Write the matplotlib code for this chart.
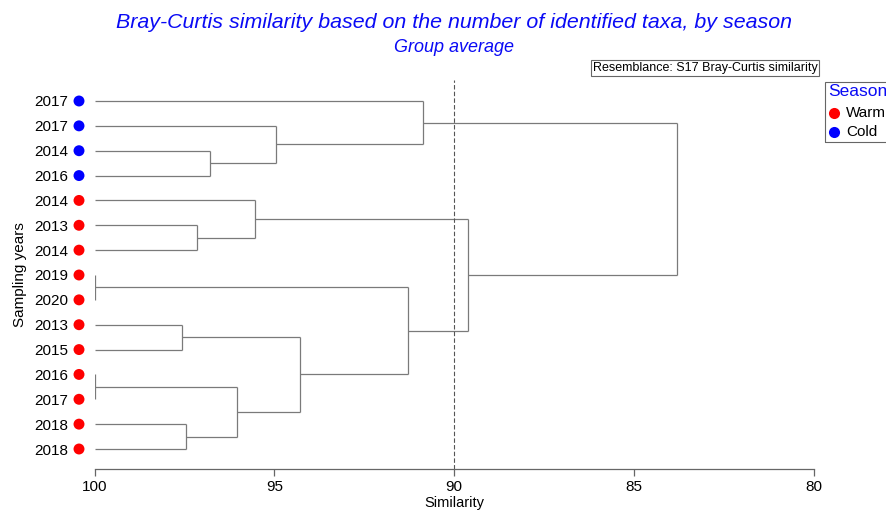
import matplotlib
matplotlib.use("Agg")
import matplotlib.pyplot as plt
from matplotlib.patches import Rectangle

plt.rcParams['font.family'] = ['Liberation Sans', 'DejaVu Sans']

# ---- data ----
leaf_labels = ["2017", "2017", "2014", "2016", "2014", "2013", "2014", "2019",
               "2020", "2013", "2015", "2016", "2017", "2018", "2018"]
leaf_season = ["Cold", "Cold", "Cold", "Cold", "Warm", "Warm", "Warm", "Warm",
               "Warm", "Warm", "Warm", "Warm", "Warm", "Warm", "Warm"]
# merges: (child a, child b, similarity); new node ids start at len(leaf_labels)
merge_a = [2, 1, 0, 5, 4, 7, 9, 11, 13, 22, 21, 20, 19, 17]
merge_b = [3, 15, 16, 6, 18, 8, 10, 12, 14, 23, 24, 25, 26, 27]
merge_sim = [96.78, 94.96, 90.86, 97.14, 95.55, 100.0, 97.57, 100.0, 97.45,
             96.03, 94.28, 91.28, 89.63, 83.80]
season_colors = {"Warm": "red", "Cold": "blue"}
cut_level = 90
xticks = [100, 95, 90, 85, 80]

W, H = 886, 511
fig = plt.figure(figsize=(W / 100, H / 100), dpi=100)

left_px, right_px, top_px, bot_px = 94.5, 814, 80, 469
ax = fig.add_axes([left_px / W, 1 - bot_px / H, (right_px - left_px) / W, (bot_px - top_px) / H])

n = len(leaf_labels)
leaf_y0, leaf_dy = 101, (449 - 101) / (n - 1)
ax.set_xlim(100, 80)
ax.set_ylim((bot_px - leaf_y0) / leaf_dy, (top_px - leaf_y0) / leaf_dy)

# node positions
node_x = {i: 100.0 for i in range(n)}
node_y = {i: float(i) for i in range(n)}
lc = "#7a7a7a"
lw = 0.9
for k, (a, b, s) in enumerate(zip(merge_a, merge_b, merge_sim)):
    nid = n + k
    ya, yb = node_y[a], node_y[b]
    ax.plot([node_x[a], s], [ya, ya], color=lc, lw=lw, solid_capstyle='butt')
    ax.plot([node_x[b], s], [yb, yb], color=lc, lw=lw, solid_capstyle='butt')
    ax.plot([s, s], [ya, yb], color=lc, lw=lw, solid_capstyle='butt')
    node_x[nid] = s
    node_y[nid] = (ya + yb) / 2

ax.axvline(cut_level, color="#555555", lw=0.8, ls=(0, (4, 2)))

# axes styling
for sp in ["top", "right", "left"]:
    ax.spines[sp].set_visible(False)
ax.spines["bottom"].set_color("#666666")
ax.spines["bottom"].set_linewidth(0.9)
ax.set_xticks(xticks)
ax.set_xticklabels([str(t) for t in xticks], fontsize=11)
ax.tick_params(axis='x', direction='out', length=5, width=0.9, color="#666666", pad=3)

ax.set_yticks(range(n))
ax.set_yticklabels(leaf_labels, fontsize=11)
ax.tick_params(axis='y', length=0, pad=19)

# season dots
dot_x = (79 - left_px) / (right_px - left_px)
trans = matplotlib.transforms.blended_transform_factory(ax.transAxes, ax.transData)
ax.scatter([dot_x] * n, range(n), s=62, c=[season_colors[s] for s in leaf_season],
           transform=trans, clip_on=False, zorder=5, linewidths=0)

# labels
fig.text(454 / W, 1 - 503 / H, "Similarity", ha="center", va="center", fontsize=10.5)
fig.text(20 / W, 1 - 275 / H, "Sampling years", ha="center", va="center", rotation=90, fontsize=11)

# titles
fig.text(454 / W, 1 - 22 / H,
         "Bray-Curtis similarity based on the number of identified taxa, by season",
         ha="center", va="center", fontsize=15.4, style="italic", color="#0a0af5")
fig.text(454 / W, 1 - 48 / H, "Group average", ha="center", va="center",
         fontsize=13, style="italic", color="#0a0af5")

# resemblance box
fig.text(705 / W, 1 - 68 / H, "Resemblance: S17 Bray-Curtis similarity", ha="center", va="center",
         fontsize=9, bbox=dict(boxstyle="square,pad=0.15", fc="white", ec="#666666", lw=0.8))

# legend (manual, partially cut off)
fig.patches.append(Rectangle((825 / W, 1 - 142 / H), 100 / W, 60 / H, transform=fig.transFigure,
                             fill=False, ec="#666666", lw=0.8))
fig.text(828 / W, 1 - 92 / H, "Season", ha="left", va="center", fontsize=12.5, color="#0a0af5")
for lab, yy in [("Warm", 113), ("Cold", 132)]:
    fig.text(846 / W, 1 - yy / H, lab, ha="left", va="center", fontsize=11)
    fig.add_artist(matplotlib.lines.Line2D([834 / W], [1 - yy / H], marker='o', markersize=8,
                                           color=season_colors[lab], mew=0,
                                           transform=fig.transFigure))

fig.savefig("out.png", dpi=100)
